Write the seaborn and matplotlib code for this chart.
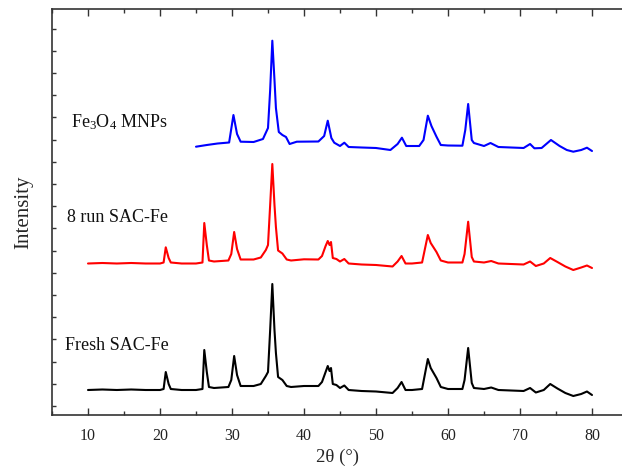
import matplotlib
matplotlib.use("Agg")
import matplotlib.pyplot as plt
from matplotlib.ticker import MultipleLocator, NullFormatter
import seaborn as sns
import pandas as pd

# XRD patterns (2theta in degrees, intensity in a.u.)
fresh_2theta = [10.0, 12.0, 14.0, 16.0, 18.0, 20.0, 20.5, 20.8, 21.2, 21.5, 23.0, 25.0,
                25.9, 26.15, 26.5, 26.8, 27.5, 29.5, 29.9, 30.3, 30.7, 31.2, 33.0, 34.0,
                34.7, 35.0, 35.3, 35.6, 35.9, 36.1, 36.4, 37.0, 37.6, 38.2, 40.0, 42.0,
                42.5, 43.0, 43.3, 43.55, 43.75, 44.0, 44.5, 45.0, 45.6, 46.2, 48.0, 50.0,
                52.3, 53.0, 53.55, 54.1, 55.0, 56.4, 57.2, 57.6, 58.4, 59.0, 60.0, 62.0,
                62.3, 62.8, 63.3, 63.6, 65.0, 66.0, 67.0, 70.5, 71.4, 72.2, 73.3, 74.2,
                75.2, 76.3, 77.4, 78.5, 79.3, 80.0]
fresh_int = [25, 25.5, 25, 25.5, 25, 25, 26, 43, 31, 26, 25, 25,
             26, 65, 43, 28, 27, 28, 35, 59, 40, 29, 29, 31,
             39, 43, 85, 131, 85, 62, 38, 35, 29, 28, 29, 29,
             33, 43, 49, 44, 47, 31, 30, 27, 29.5, 25, 24, 23.5,
             22, 27, 33, 25, 25, 26, 56, 47, 37, 28, 26, 26,
             35, 67, 32, 27, 26, 27.5, 25, 24, 27, 22.5, 25, 31,
             26.5, 22, 19, 21, 23.5, 20]

run8_2theta = fresh_2theta
run8_int = [25.5, 26, 25.5, 26, 25.5, 25.5, 26.5, 41.7, 31, 26.5, 25.5, 25.5,
            26.5, 66, 44, 28.5, 27.5, 28.5, 35, 57, 40, 29.5, 29.5, 31.5,
            39, 44, 84, 125, 84, 62, 38.5, 35.5, 29.5, 28.5, 29.7, 29.5,
            33, 43, 48, 44, 47, 31, 30, 27.5, 30, 25.5, 24.5, 24,
            22.5, 27.5, 33, 25.5, 25.5, 26.5, 54, 46, 37, 28.5, 26.5, 26.5,
            35, 67.3, 32, 27.5, 26.5, 28, 25.5, 24.5, 27.5, 23, 25.5, 31,
            27, 22.5, 19, 21.5, 23.5, 21]

fe3o4_2theta = [25.0, 26.5, 28.0, 29.6, 30.2, 30.7, 31.2, 33.0, 34.3, 35.0, 35.3, 35.6,
                35.9, 36.1, 36.5, 37.0, 37.5, 38.0, 39.0, 42.0, 42.8, 43.3, 43.8, 44.2,
                45.0, 45.6, 46.2, 48.0, 50.0, 52.0, 53.0, 53.6, 54.2, 56.0, 56.6, 57.2,
                57.7, 58.4, 59.0, 60.0, 62.0, 62.4, 62.8, 63.3, 63.6, 65.0, 65.9, 67.0,
                70.5, 71.4, 72.0, 73.0, 74.3, 75.5, 76.5, 77.4, 78.5, 79.3, 80.0]
fe3o4_int = [24.3, 26, 27.5, 28.5, 56, 37, 29.3, 29, 32, 43, 81, 130.3,
             91, 63, 39, 36, 34, 27, 29.3, 29.5, 35, 50.3, 33, 28.3,
             25, 28.3, 24, 23.5, 23, 21, 27, 33.3, 25, 25, 31, 55.3,
             45, 34.3, 26, 25.5, 25.3, 41, 67, 31, 28, 25, 28, 24,
             23, 27, 22.7, 23, 31, 25, 21, 19.3, 21, 23.3, 20]

samples = ["Fresh SAC-Fe", "8 run SAC-Fe", "Fe3O4 MNPs"]
labels = ["Fresh SAC-Fe", "8 run SAC-Fe", r"Fe$_\mathrm{3}$O$_\mathrm{4}$ MNPs"]
colors = ["black", "red", "blue"]

# vertical stacking of the patterns
offsets = [0, 126, 244]

frames = []
for name, xs, ys, off in zip(samples,
                             [fresh_2theta, run8_2theta, fe3o4_2theta],
                             [fresh_int, run8_int, fe3o4_int],
                             offsets):
    frames.append(pd.DataFrame({"two_theta": xs,
                                "intensity": [v + off for v in ys],
                                "sample": name}))
df = pd.concat(frames, ignore_index=True)

sns.set_style("ticks")
plt.rcParams["font.family"] = ["Liberation Serif", "DejaVu Serif"]
plt.rcParams["mathtext.fontset"] = "custom"
plt.rcParams["mathtext.rm"] = "Liberation Serif"
plt.rcParams["mathtext.it"] = "Liberation Serif:italic"

fig = plt.figure(figsize=(6.22, 4.73), dpi=100)
ax = fig.add_axes([52 / 622, 58 / 473, 570 / 622, 406 / 473])

sns.lineplot(data=df, x="two_theta", y="intensity", hue="sample",
             hue_order=samples, palette=colors, estimator=None,
             linewidth=1.5, legend=False, ax=ax)

ax.set_xlim(5, 5 + 570 / 7.2)
ax.set_ylim(0, 406)

ax.xaxis.set_major_locator(MultipleLocator(10))
ax.xaxis.set_minor_locator(MultipleLocator(5))
ax.yaxis.set_major_locator(MultipleLocator(22.2, offset=9))
ax.yaxis.set_major_formatter(NullFormatter())
ax.tick_params(axis="both", which="both", direction="in", top=True, right=False,
               color="#333333", width=1.0)
ax.tick_params(axis="x", which="major", length=5, labelsize=11.5, pad=9,
               labelcolor="#222222")
ax.tick_params(axis="x", which="minor", length=3)
ax.tick_params(axis="y", which="major", length=3)

for side in ["left", "bottom", "top"]:
    ax.spines[side].set_color("#333333")
    ax.spines[side].set_linewidth(1.2)
ax.spines["right"].set_visible(False)

ax.set_xlabel("2θ (°)", fontsize=13.5, labelpad=4)
ax.set_ylabel("Intensity", fontsize=15, labelpad=10)

label_pos = [(6.8, 70), (7.1, 197), (7.6, 293)]
for text, (tx, ty) in zip(labels, label_pos):
    ax.text(tx, ty, text, fontsize=13, ha="left", va="center", color="#111111")

fig.savefig("out.png", dpi=100)
